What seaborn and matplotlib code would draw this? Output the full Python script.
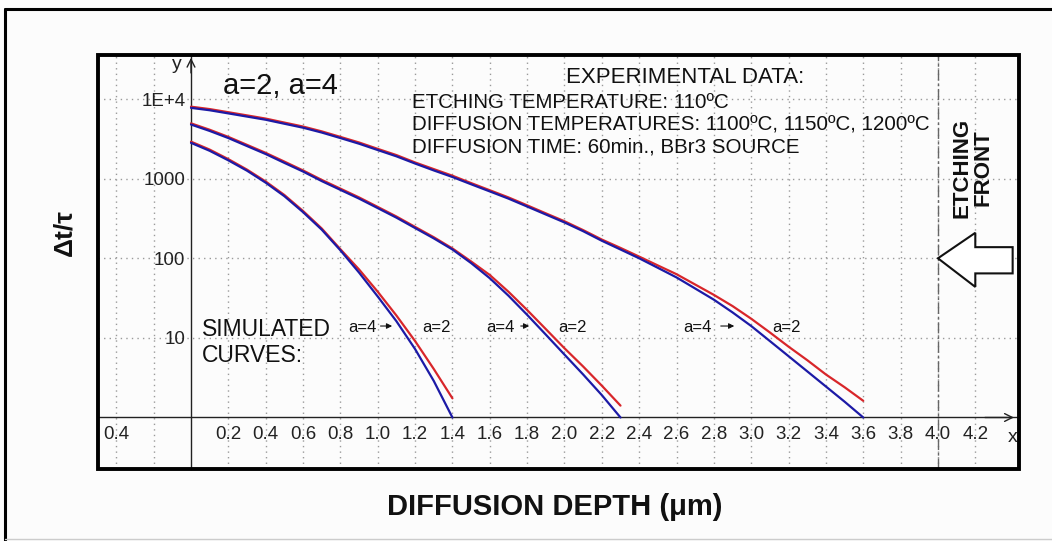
import numpy as np
import pandas as pd
import matplotlib
matplotlib.use('Agg')
import matplotlib.pyplot as plt
from matplotlib.patches import Rectangle, Polygon
from matplotlib.lines import Line2D
from matplotlib.ticker import NullLocator
import seaborn as sns

# diffusion depth samples (um) for the three diffusion temperatures
depth_1100 = [0.0, 0.1, 0.2, 0.3, 0.4, 0.5, 0.6, 0.7, 0.8, 0.9, 1.0, 1.1, 1.2, 1.3, 1.4]
depth_1150 = [0.0, 0.1, 0.2, 0.3, 0.4, 0.5, 0.6, 0.7, 0.8, 0.9, 1.0, 1.1, 1.2, 1.3,
              1.4, 1.5, 1.6, 1.7, 1.8, 1.9, 2.0, 2.1, 2.2, 2.3]
depth_1200 = [0.0, 0.1, 0.2, 0.3, 0.4, 0.5, 0.6, 0.7, 0.8, 0.9, 1.0, 1.1, 1.2, 1.3,
              1.4, 1.5, 1.6, 1.7, 1.8, 1.9, 2.0, 2.1, 2.2, 2.3, 2.4, 2.5, 2.6, 2.7,
              2.8, 2.9, 3.0, 3.1, 3.2, 3.3, 3.4, 3.5, 3.6]

# simulated dt/tau, a=2 (red) and a=4 (blue)
dt_1100_a2 = [2920, 2320, 1760, 1300, 922, 624, 393, 237, 130, 72.4, 38.0, 19.1,
              9.12, 4.07, 1.74]
dt_1100_a4 = [2820, 2240, 1700, 1260, 891, 603, 380, 229, 126, 66.1, 33.1, 16.2,
              7.24, 2.88, 1.0]
dt_1150_a2 = [4960, 4120, 3350, 2660, 2110, 1640, 1270, 966, 750, 582, 442, 335,
              248, 184, 133, 91.2, 61.7, 38.0, 22.4, 12.9, 7.41, 4.37, 2.51, 1.41]
dt_1150_a4 = [4790, 3980, 3240, 2570, 2040, 1580, 1230, 933, 724, 562, 427, 324,
              240, 178, 129, 87.1, 56.2, 33.9, 19.5, 11.0, 6.17, 3.47, 1.91, 1.0]
dt_1200_a2 = [8030, 7490, 6840, 6240, 5690, 5070, 4520, 3930, 3350, 2850, 2370, 1980,
              1600, 1320, 1090, 881, 716, 582, 463, 367, 292, 226, 172, 135, 105,
              81.3, 63.1, 46.8, 34.7, 25.1, 17.4, 11.7, 7.76, 5.25, 3.47, 2.40, 1.62]
dt_1200_a4 = [7760, 7240, 6610, 6030, 5500, 4900, 4370, 3800, 3240, 2750, 2290, 1910,
              1550, 1270, 1050, 851, 692, 562, 447, 355, 282, 219, 166, 129, 100,
              75.9, 57.5, 41.7, 30.2, 20.9, 14.1, 9.12, 5.89, 3.80, 2.45, 1.58, 1.0]

x_ticks = [-0.4, -0.2, 0.2, 0.4, 0.6, 0.8, 1.0, 1.2, 1.4, 1.6, 1.8, 2.0, 2.2,
           2.4, 2.6, 2.8, 3.0, 3.2, 3.4, 3.6, 3.8, 4.0, 4.2]
x_tick_labels = ['0.4', '', '0.2', '0.4', '0.6', '0.8', '1.0', '1.2', '1.4', '1.6',
                 '1.8', '2.0', '2.2', '2.4', '2.6', '2.8', '3.0', '3.2', '3.4',
                 '3.6', '3.8', '4.0', '4.2']
y_ticks = [10, 100, 1000, 10000]
y_tick_labels = ['10', '100', '1000', '1E+4']

etching_front = 4.0

rows = []
for temp, depth, a2, a4 in [(1100, depth_1100, dt_1100_a2, dt_1100_a4),
                            (1150, depth_1150, dt_1150_a2, dt_1150_a4),
                            (1200, depth_1200, dt_1200_a2, dt_1200_a4)]:
    for d, v in zip(depth, a2):
        rows.append({'temp': temp, 'a': 2, 'depth': d, 'dt': v})
    for d, v in zip(depth, a4):
        rows.append({'temp': temp, 'a': 4, 'depth': d, 'dt': v})
df = pd.DataFrame(rows)

sns.set_theme(style='white')
plt.rcParams['font.family'] = ['Liberation Sans', 'DejaVu Sans']

bg = '#fcfcfc'
fig = plt.figure(figsize=(10.52, 5.41), dpi=100, facecolor=bg)
ax = fig.add_axes([98 / 1052, 1 - 469 / 541, 921 / 1052, 414 / 541])
ax.set_facecolor(bg)

colors = {2: '#d8262a', 4: '#1c1aa6'}
for a in [2, 4]:
    for temp in [1100, 1150, 1200]:
        sub = df[(df['a'] == a) & (df['temp'] == temp)]
        sns.lineplot(data=sub, x='depth', y='dt', color=colors[a], lw=1.6,
                     estimator=None, sort=False, ax=ax, zorder=5)

ax.set_yscale('log')
ax.set_xlim(-0.498, 4.434)
ax.set_ylim(0.2254, 35800)
ax.set_xlabel('')
ax.set_ylabel('')

# axes through the origin
for side in ['top', 'right']:
    ax.spines[side].set_visible(False)
ax.spines['left'].set_position(('data', 0))
ax.spines['bottom'].set_position(('data', 1))
for side in ['left', 'bottom']:
    ax.spines[side].set_color('#222222')
    ax.spines[side].set_linewidth(1.0)
    ax.spines[side].set_zorder(4)

ax.set_xticks(x_ticks, x_tick_labels)
ax.set_yticks(y_ticks, y_tick_labels)
ax.yaxis.set_minor_locator(NullLocator())
ax.tick_params(axis='both', direction='inout', length=6, width=1,
               labelsize=13.5, colors='#222222')
ax.tick_params(axis='x', pad=3)
ax.tick_params(axis='y', pad=1)
ax.grid(True, color='#9a9a9a', linestyle=(0, (1, 3)), linewidth=1.0)

# axis arrows and names
ax.annotate('', xy=(0, 1.0), xycoords=('data', 'axes fraction'),
            xytext=(0, 0.95), arrowprops=dict(arrowstyle='->', lw=1, color='#222222',
                                              mutation_scale=14))
ax.annotate('', xy=(0.9975, 1), xycoords=('axes fraction', 'data'),
            xytext=(0.96, 1), arrowprops=dict(arrowstyle='->', lw=1, color='#222222',
                                              mutation_scale=14))
ax.text(0.0858, 0.976, 'y', transform=ax.transAxes, fontsize=14,
        ha='center', va='center', color='#222222')
ax.text(0.9935, 0.077, 'x', transform=ax.transAxes, fontsize=14,
        ha='center', va='center', color='#222222')

# etching front line and arrow
ax.axvline(etching_front, color='#666666', lw=1.0, linestyle=(0, (8, 2, 2, 2)), zorder=3)
arrow = Polygon([(4.0, 100), (4.2, 209), (4.2, 138), (4.40, 138), (4.40, 64.6),
                 (4.2, 64.6), (4.2, 43.7)], closed=True, fc='white', ec='#111111',
                lw=1.5, zorder=6)
ax.add_patch(arrow)
ax.text(0.950, 0.727, 'ETCHING\nFRONT', transform=ax.transAxes, rotation=90,
        fontsize=16, fontweight='bold', ha='center', va='center',
        multialignment='center', linespacing=1.0, color='#111111')

# annotations
ax.text(0.1357, 0.905, 'a=2, a=4', transform=ax.transAxes, fontsize=21,
        ha='left', va='baseline', color='#111111')
ax.text(0.637, 0.932, 'EXPERIMENTAL DATA:', transform=ax.transAxes, fontsize=16,
        ha='center', va='baseline', color='#111111')
info = ['ETCHING TEMPERATURE: 110ºC',
        'DIFFUSION TEMPERATURES: 1100ºC, 1150ºC, 1200ºC',
        'DIFFUSION TIME: 60min., BBr3 SOURCE']
for txt, yb in zip(info, [0.872, 0.818, 0.765]):
    ax.text(0.341, yb, txt, transform=ax.transAxes, fontsize=14.8,
            ha='left', va='baseline', color='#111111')
ax.text(0.113, 0.321, 'SIMULATED', transform=ax.transAxes, fontsize=16.5,
        ha='left', va='baseline', color='#111111')
ax.text(0.113, 0.258, 'CURVES:', transform=ax.transAxes, fontsize=16.5,
        ha='left', va='baseline', color='#111111')

label_y = 11.9
arrow_y = 14.1
for x4, (x0, x1), x2 in [(0.916, (1.0, 1.092), 1.317),
                         (1.655, (1.751, 1.826), 2.045),
                         (2.71, (2.822, 2.924), 3.19)]:
    ax.text(x4, label_y, 'a=4', fontsize=12, ha='center', va='baseline', color='#111111')
    ax.text(x2, label_y, 'a=2', fontsize=12, ha='center', va='baseline', color='#111111')
    ax.annotate('', xy=(x1, arrow_y), xytext=(x0, arrow_y),
                arrowprops=dict(arrowstyle='-|>', lw=0.8, color='#111111',
                                mutation_scale=8))

# heavy frame around the plot area
ax.add_patch(Rectangle((0, 0), 1, 1, transform=ax.transAxes, fill=False,
                       lw=2.8, ec='black', clip_on=False, zorder=10))

# axis titles
fig.text(64 / 1052, 1 - 232 / 541, 'Δt/τ', rotation=90, fontsize=19,
         fontweight='bold', ha='center', va='center', color='#111111')
fig.text(555 / 1052, 1 - 507 / 541, 'DIFFUSION DEPTH (μm)', fontsize=21,
         fontweight='bold', ha='center', va='center', color='#111111')

# outer frame
fig.add_artist(Line2D([5 / 1052, 1.0], [1 - 9 / 541, 1 - 9 / 541],
                      transform=fig.transFigure, color='black', lw=2.2))
fig.add_artist(Line2D([5 / 1052, 5 / 1052], [0.0, 1 - 9 / 541],
                      transform=fig.transFigure, color='black', lw=2.2))
fig.add_artist(Line2D([5 / 1052, 1.0], [2 / 541, 2 / 541],
                      transform=fig.transFigure, color='#cccccc', lw=1.0))

fig.savefig('out.png', dpi=100, facecolor=bg)
